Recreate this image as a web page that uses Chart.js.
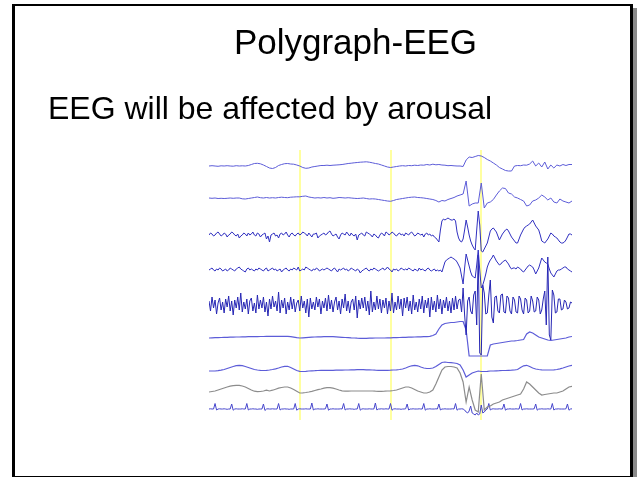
<!DOCTYPE html>
<html>

<head>
	<title>Polygraph-EEG</title>
	<script src="https://cdn.jsdelivr.net/npm/chart.js@4.4.1/dist/chart.umd.min.js"></script>
	<style>
		body {
			margin: 0;
			background: #fff;
			font-family: "Liberation Sans", Arial, sans-serif;
		}

		#frame {
			position: absolute;
			left: 12px;
			top: 4px;
			width: 621px;
			height: 474px;
			box-sizing: border-box;
			border-style: solid;
			border-color: #000;
			border-width: 2px 3px 2px 3px;
			box-shadow: 4px 4px 0 #8a8a8a;
		}

		.txt {
			position: absolute;
			color: #000;
			white-space: nowrap;
		}
	</style>
</head>

<body>
	<canvas id="eeg" width="638" height="477" style="position:absolute;left:0;top:0;"></canvas>
	<div id="frame"></div>
	<div class="txt" style="left:0;width:711px;text-align:center;top:24px;font-size:35px;line-height:35px;">Polygraph-EEG</div>
	<div class="txt" style="left:48px;top:92px;font-size:32px;line-height:32px;">EEG will be affected by arousal</div>

	<script>
		// channel traces (up = positive). eeg1,2,6,7,8: one value per sample,
		// eeg3,4,5 and ecg: two values per sample
		const eeg1 = [
			0, 0.3, 0, -0.3, 0.2, 0, 0.3, 0, -0.2, 0.3,
			0, 0.2, 0, 0.5, 1.5, 2.5, 2.7, 2.2, 1, -0.5,
			-2, -2.5, -1.5, 0.5, 1.5, 2.3, 2.5, 2, 1.8, 1,
			0, -1.5, -2.3, -2, -1, -0.5, 0, 0.5, 0.5, 0.8,
			0.5, 0.8, 1, 1.2, 1.5, 2, 2.5, 2.8, 3.2, 3.5,
			3.8, 4, 4.2, 3.8, 3.2, 2.5, 2, 1, 0, -1,
			-1.5, -1, -0.5, 0, 0.3, 0, 0.5, 0.3, 0.8, 0.5,
			1, 0.8, 1.5, 1, 1.8, 1.2, 1.5, 1, 0.8, 0.3,
			0.5, 0.2, 0, 0, -0.5, 6, 9, 8.5, 9.5, 10.5,
			10, 8.5, 6.5, 5, 3, 1, -1.5, -3, -4.5, -5,
			-5, 0, 0.5, 0.3, 1, 0.8, 2, 5, 0, 3,
			-1, 4, -3, 1, -2, 1, 0, 1.5, 0.5, 1.5, 1.5
		];
		const eeg2 = [
			0, -0.3, 0, -0.5, -0.3, -0.5, -0.3, 0, -0.3, 0,
			0, -0.8, -1, -0.5, 0, 0.5, 1, 0.3, 0, 0.5,
			0, 0.3, 0, 0.5, 0.8, 0.5, 0.3, 0.8, 1, 1.2,
			1.2, 1.7, 2, 1, 0.5, 0, 0.3, 0, 0.5, 0,
			0.3, -0.3, 0, 0.5, 0.3, 0, 0.3, 0, -0.3, -0.5,
			-0.3, 0, -0.5, -1, -0.8, -1, -1.5, -2, -2.5, -3,
			-3.3, -2.5, -1.5, -1, -0.5, 0, 0.5, 0.8, 1, 0.5,
			0.3, 0, -0.5, -1, -1.5, -2.5, -4, -2.5, -3, -1.5,
			-0.5, 0.5, 2, 3, 4, 17, -8, -6, -5, -5,
			15, -10, -5, -4, -1.5, 3, 7, 10, 9.5, 5,
			4, 1, 0, -1.5, -3, -8, -7, -3, -2, 0,
			3, 1, -2, 0, -4, -5, -1, -3, -4, -5, -3
		];
		const eeg3 = [
			0, 2, 1, -1, 0, 2, 3, 1, -1, 0,
			2, 1, -2, 0, 1, 3, 2, 0, -1, 1,
			-3, -1, 0, 2, 1, -1, 2, 0, 1, 3,
			0, -1, 2, 1, -2, 0, 1, 2, -4, -1,
			-7, 0, 1, 2, -1, 0, -3, 1, 2, 0,
			1, 3, 0, -2, 1, 2, 0, -1, 1, 2,
			0, 1, 3, 2, 1, -1, 2, 0, -2, 1,
			1, 2, -3, -1, 0, 1, 2, 0, 1, 3,
			4, 1, -1, 0, 1, -2, -4, 0, 2, 1,
			0, 3, 1, -1, 2, 0, -1, 1, -5, 0,
			1, 2, 0, -1, 3, 2, 1, 0, -2, 1,
			0, -2, -3, 0, 2, 1, -1, 3, 2, 0,
			1, 3, 2, 0, -1, 1, 2, 0, 1, -1,
			2, 1, 0, 2, 3, 1, -1, 0, 2, 1,
			0, 1, -2, 1, 2, 0, 1, -1, 0, -2,
			-3, -5, -7, 5, 14, 16, 15, 16, 17, 16,
			15, 15, 16, 14, 3, -3, -6, -7, -4, 5,
			15, 8, 0, -6, -10, -13, -15, 5, 24, 10,
			-16, -17, -14, -11, -8, -2, 4, 6, 7, 5,
			3, -1, -5, -2, 1, 3, 5, 6, 4, 1,
			-2, -4, -6, -8, -8, -4, 0, 3, 6, 8,
			9, 10, 11, 13, 15, 12, 9, 7, 5, 0,
			-6, -7, -8, -6, -4, -1, 2, 1, -1, -2,
			-3, -5, -7, -8, -8, -7, -5, -2, 1, 1, 0
		];
		const eeg4 = [
			0, 1, 2, 0, -1, 1, 0, 2, 1, -1,
			0, 1, -1, 0, 2, 1, 0, -1, 1, 2,
			3, 1, 0, -1, -2, 1, 2, 0, 1, 0,
			-1, 1, 0, 2, 1, 0, -1, 1, 2, -1,
			0, 1, 2, 0, 1, -1, 0, 1, -2, 0,
			1, 2, 0, -1, 1, 0, 2, 1, 0, 3,
			-1, 0, 1, 0, 3, 2, 1, 0, -1, 1,
			0, 2, 1, -1, 0, 1, 0, 1, 2, 1,
			0, -1, 1, 2, 0, -2, 1, 0, 1, 2,
			0, 1, -1, 0, 2, 1, 0, -1, 1, 0,
			-3, -1, 0, 1, 2, 0, -1, 1, 0, 2,
			1, 0, -1, 0, 1, 2, 0, 1, 3, 1,
			0, -2, 1, 0, 1, -1, 0, 2, 1, 0,
			1, 0, 2, 1, 0, -1, 1, 0, -1, 2,
			0, 1, 0, -1, 1, 2, 0, -1, 0, 1,
			-1, 0, -1, 0, -2, 3, 8, 10, 11, 12,
			13, 12, 11, 10, 8, 5, 2, -6, -14, 2,
			16, 10, 4, -2, -6, -7, -8, 5, 20, 0,
			-18, -15, -10, -4, 3, 7, 10, 12, 15, 12,
			9, 7, 5, 6, 8, 9, 10, 8, 6, 3,
			1, 2, 2, 1, 3, 2, 1, -1, -2, 0,
			2, 4, 5, 4, 3, 0, -4, -1, 2, 7,
			12, 10, 8, 7, 6, 1, -3, -5, -7, -4,
			-1, 0, 0, 1, 2, 3, 3, 1, 0, -1, -2
		];
		const eeg5 = [
			4, -6, 8, -3, 5, -9, 2, 7, -5, 3,
			-8, 6, -2, 9, -6, 4, -10, 5, -3, 8,
			-5, 12, -7, 3, -4, 6, -9, 4, 7, -6,
			2, -8, 10, -4, 5, -3, 8, -7, 3, -11,
			6, -4, 9, -2, 4, -6, 13, -8, 5, -3,
			7, -9, 3, -5, 8, -4, 6, -7, 2, 5,
			-6, 9, -3, 4, -8, 6, -12, 7, -4, 3,
			-5, 8, -2, 6, -9, 4, -3, 7, -6, 10,
			-4, 5, -7, 3, 8, -5, 4, -9, 6, -3,
			11, -6, 4, -8, 3, 6, -5, 9, -13, 5,
			-4, 7, -3, 8, -6, 4, -10, 14, -7, 3,
			-5, 9, -4, 6, -8, 5, -3, 7, -9, 4,
			-6, 12, -8, 3, -5, 9, -4, 6, -11, 7,
			-3, 8, -6, 4, -9, 10, -5, 3, -7, 6,
			-4, 9, -8, 5, -3, 7, -12, 8, -5, 4,
			-7, 10, -4, 6, -9, 5, -3, 8, -6, 4,
			-8, 7, -5, 9, -4, 5, 6, -7, 17, -10,
			-30, 4, 8, -6, -9, 10, 14, -20, 50, -48,
			-50, 20, 12, -9, -8, 10, 25, -12, -18, 8,
			9, -6, -8, 10, 11, -7, -8, 9, 7, -6,
			-9, 8, 5, -7, -8, 9, 6, -5, -9, 7,
			5, -8, -6, 9, 4, -7, -6, 8, 5, -9,
			-5, 6, 14, -20, 48, -30, -35, 15, 10, -8,
			-7, 6, 6, -5, -4, 5, 3, -4, -3, 3, 2
		];
		const eeg6 = [
			0, 0.2, 0.3, 0.4, 0.5, 0.6, 0.7, 0.8, 0.9, 1.0,
			1.0, 1.1, 1.2, 1.3, 1.3, 1.4, 1.4, 1.5, 1.5, 1.6,
			1.6, 1.7, 1.7, 1.7, 1.7, 1.7, 1.7, 1.3, 0.8, 0.3,
			0, 0.2, 0.4, 0.6, 0.8, 1.0, 1.1, 1.2, 1.3, 1.3,
			1.3, 1.3, 1.1, 0.9, 0.7, 0.5, 0.3, 0.1, 0, -0.2,
			-0.3, -0.3, -0.3, -0.2, -0.1, 0, 0, 0, 0, 0.1,
			0.2, 0.3, 0.4, 0.5, 0.6, 0.7, 0.8, 0.9, 1.0, 1.1,
			1.2, 1.3, 1.4, 1.7, 2.5, 4, 9, 13, 14.5, 15,
			15.5, 15.5, 16, 16.5, 16.5, 8, -18, -18, -18, -18,
			-18, -18, -18, -7, -6, -5.5, -5, -4.5, -4, -3.5,
			-3, -2.8, -2.5, -2, -1.5, 4, 6, 5, 3, 1,
			0, -1, -2, -2.5, -2, -1.5, -1, -0.5, 0, 1, 1.5
		];
		const eeg7 = [
			0, 0, 0, 0.3, 0.8, 1.5, 2.5, 3.5, 4.5, 5.3,
			5.7, 5.3, 4.5, 3.5, 2.5, 1.5, 1, 0.7, 0.5, 0.7,
			1, 1.5, 2.2, 3, 4, 4.7, 4.7, 3.5, 2, 0.5,
			-0.3, -0.5, -0.3, 0, 0.2, 0.3, 0.5, 0.6, 0.7, 0.7,
			0.7, 0.7, 0.8, 0.8, 0.9, 1, 1, 1.1, 1.2, 1.3,
			1.3, 1.3, 1.2, 1.1, 1, 0.8, 0.7, 0.6, 0.6, 0.7,
			0.8, 1, 1.2, 1.5, 2, 3, 4.2, 5.2, 5.7, 5.2,
			4, 3, 2.5, 2.5, 3, 4.5, 6.5, 8.5, 9, 8.5,
			8.3, 8, 7.5, 6, 1, -6, -4, -2, -1, 0,
			-0.5, -0.5, -0.3, 0, 0, 0.2, 0.3, 0.5, 0.5, 0.7,
			0.8, 1, 1.5, 3.5, 5.2, 5.7, 4.5, 3, 2, 1.5,
			1.2, 1, 1, 1, 1.2, 1.5, 2.2, 3, 4, 5, 5.7
		];
		const eeg8 = [
			0, 0.5, 1, 2, 3, 4, 5, 5.8, 6.3, 6.7,
			6.7, 6, 5, 3.5, 2, 0.8, 0.3, 0.5, 1, 1.8,
			1, 1.8, 2.8, 3.8, 4.5, 5, 5, 4, 2.5, 0.8,
			-1, -0.8, -0.5, 0, 0.7, 1.5, 2.3, 3, 3.8, 4.3,
			4.3, 3.8, 3, 2, 1.2, 0.8, 0.8, 1, 1, 1,
			1, 1, 1, 1, 1, 0.8, 0.7, 0.7, 0.8, 1,
			1.2, 1.5, 2, 3, 4, 5, 5, 4, 2.5, 1,
			0, -1, -1, 0, 2, 8, 15, 22, 25, 25.5,
			25.5, 25, 24, 19, 10, -10, 5, -8, -18, -20,
			18, -18, -15, -14, -12, -11, -10, -8, -7, -6,
			-5, -4, -3, -2, 3, 10, 8, 5, 2, -1,
			-3, -2.5, -2, -1.5, -1, -1, 0, 1, 3, 5, 5.7
		];
		const ecg = [
			0, 0.2, 0, 0, 5.5, -1, 0, 0.2, 0, 0,
			0.2, 0, -0.3, 0, 0, 5, -1.2, 0, 0.2, 0,
			0, 0, 0.2, 0, 0, 5.5, -1, 0, 0, 0.2,
			0, 0, -0.3, 0, 0, 0, 5, -1.5, 0, 0.2,
			0, 0, 0.2, 0, 0, 0, 5.5, -1, 0, 0,
			0.2, 0, 0, -0.3, 0, 0, 0, 5.5, -1.2, 0,
			0.2, 0, 0, 0, 0.2, 0, 0, 0, 6, -1,
			0, 0, 0.2, 0, 0, 0, 0, 0.2, 5, -1.2,
			0, 0, 0.2, 0, 0, 0, 0, 0.2, 0, 5.5,
			-1, 0, 0, 0.2, 0, 0, -0.3, 0, 0, 5.5,
			-1.2, 0, 0.2, 0, 0, 0, 0.2, 0, 0, 0,
			6, -1, 0, 0, 0.2, 0, 0, 0.2, 0, 0,
			5.5, -1.2, 0, 0.2, 0, 0, 0, -0.3, 0, 0,
			0.2, 5, -1, 0, 0, 0.2, 0, 0, 0, 0.2,
			0, 0, 5.5, -1.2, 0, 0, 0.2, 0, 0, 0,
			0.2, 0, 5, -1, 0, 0, 0.2, 0, 0, 0,
			0, 0.2, 0, 5.5, -1.2, 0, 0, 0.2, 0, -1,
			-3, -4, -2, 3, -4, -5, -6, -4, -6, -5,
			4, -4, -3, -1, 0, 5.5, -1, 0, 0.2, 0,
			0, 0, 0.2, 0, 0, 5, -1.2, 0, 0, 0.2,
			0, 0, 0, 0.2, 0, 0, 5.5, -1, 0, 0,
			0.2, 0, 0, 0, 0, 0.2, 5, -1.2, 0, 0,
			0.2, 0, 0, 0, 0.2, 0, 0, 5.5, -1, 0,
			0, 0.2, 0, 0, 0, 0, 0.2, 5, -1.2, 0, 0.2
		];

		// recording length in samples and the yellow epoch markers
		const lastSample = 120;
		const markers = [30, 60, 90];

		const traces = [eeg1, eeg2, eeg3, eeg4, eeg5, eeg6, eeg7, eeg8, ecg];
		const colors = ['#5c5cd8', '#5c5cd8', '#3030c0', '#3030c0', '#2626b4',
			'#5c5cd8', '#5c5cd8', '#8c8c8c', '#4646cc'];
		const widths = [1, 1, 1, 1, 1, 1.2, 1.2, 1.2, 1];

		// plot box and baseline of each row (page px)
		const plotTop = 150, plotBottom = 420;
		const rowCenter = [166, 198, 235, 270, 305, 338, 371, 392, 409];

		function toPoints(t) {
			const step = lastSample / (t.length - 1);
			return t.map((v, i) => ({ x: i * step, y: v }));
		}

		let scales = {
			x: { type: 'linear', display: false, min: 0, max: lastSample }
		};
		rowCenter.forEach(function (c, k) {
			scales['y' + k] = {
				type: 'linear',
				display: false,
				min: -(plotBottom - c),
				max: c - plotTop
			};
		});

		const markerLines = {
			id: 'markerLines',
			beforeDatasetsDraw(chart) {
				const ctx = chart.ctx, a = chart.chartArea, xs = chart.scales.x;
				ctx.save();
				ctx.strokeStyle = '#ffffa0';
				ctx.lineWidth = 2;
				markers.forEach(function (m) {
					const px = Math.round(xs.getPixelForValue(m));
					ctx.beginPath();
					ctx.moveTo(px, a.top);
					ctx.lineTo(px, a.bottom);
					ctx.stroke();
				});
				ctx.restore();
			}
		};

		let chart = new Chart(document.getElementById('eeg').getContext('2d'), {
			type: 'line',
			data: {
				datasets: traces.map(function (t, k) {
					return {
						data: toPoints(t),
						yAxisID: 'y' + k,
						borderColor: colors[k],
						borderWidth: widths[k],
						pointRadius: 0,
						tension: 0,
						fill: false
					};
				})
			},
			options: {
				responsive: false,
				animation: false,
				events: [],
				layout: { padding: { left: 209, right: 66, top: plotTop, bottom: 477 - plotBottom } },
				plugins: { legend: { display: false }, tooltip: { enabled: false } },
				scales: scales
			},
			plugins: [markerLines]
		});
	</script>
</body>

</html>
